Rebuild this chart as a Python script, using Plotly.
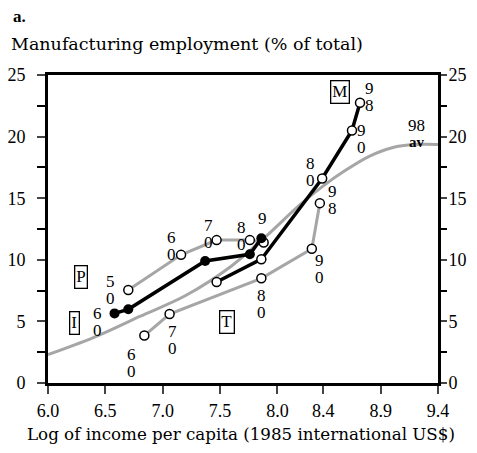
import plotly.graph_objects as go

FONT = "Liberation Serif"
TITLE_FONT = "DejaVu Serif"
GRAY = "#a6a6a6"

# log income per capita (x) vs manufacturing share of employment (y, %)
p_x = [6.70, 7.16, 7.47, 7.76, 7.88]
p_y = [7.55, 10.4, 11.6, 11.6, 11.4]
i_x = [6.58, 6.70, 7.37, 7.76, 7.86]
i_y = [5.65, 5.98, 9.9, 10.45, 11.75]
t_x = [6.84, 7.06, 7.86, 8.30, 8.37]
t_y = [3.85, 5.6, 8.5, 10.9, 14.6]
m_x = [7.47, 7.86, 8.39, 8.65, 8.72]
m_y = [8.2, 10.05, 16.6, 20.5, 22.75]

# average pattern
av_x = [6.0, 6.4, 6.8, 7.2, 7.6, 7.9, 8.2, 8.4, 8.6, 8.8, 9.0, 9.2, 9.4]
av_y = [2.3, 3.7, 5.4, 7.1, 9.5, 11.9, 14.5, 16.0, 17.3, 18.4, 19.1, 19.35, 19.35]

x_ticks = [6.0, 6.5, 7.0, 7.5, 8.0, 8.4, 8.9, 9.4]
x_labels = ["6.0", "6.5", "7.0", "7.5", "8.0", "8.4", "8.9", "9.4"]
y_ticks = [0, 5, 10, 15, 20, 25]

# (x list, y list, point index, year digits) and pixel offsets of the first digit
year_marks = [
    (p_x, p_y, 0, "50"), (p_x, p_y, 1, "60"), (p_x, p_y, 2, "70"), (p_x, p_y, 3, "80"),
    (i_x, i_y, 0, "60"), (i_x, i_y, 4, "9"),
    (t_x, t_y, 0, "60"), (t_x, t_y, 1, "70"), (t_x, t_y, 2, "80"), (t_x, t_y, 3, "90"), (t_x, t_y, 4, "98"),
    (m_x, m_y, 2, "80"), (m_x, m_y, 3, "90"), (m_x, m_y, 4, "98"),
]
year_offsets = [
    (-18, -8), (-10, -17), (-8, -15), (-8, -13),
    (-17, 0), (1, -20),
    (-13, 19), (3, 17), (0, 17), (8, 12), (13, -12),
    (-12, -15), (10, 0), (9, -14),
]

box_labels = ["P", "I", "T", "M"]
box_x = [6.29, 6.23, 7.56, 8.545]
box_y = [8.63, 4.85, 4.98, 23.64]

fig = go.Figure()

fig.add_trace(go.Scatter(x=av_x, y=av_y, mode="lines", line=dict(color=GRAY, width=3, shape="spline"),
                         hoverinfo="skip"))
open_marker = dict(symbol="circle", size=9, color="white", line=dict(color="black", width=1.5))
for xs, ys in [(p_x, p_y), (t_x, t_y)]:
    fig.add_trace(go.Scatter(x=xs, y=ys, mode="lines+markers", line=dict(color=GRAY, width=3),
                             marker=open_marker))
fig.add_trace(go.Scatter(x=m_x, y=m_y, mode="lines+markers", line=dict(color="black", width=3.5),
                         marker=open_marker))
fig.add_trace(go.Scatter(x=i_x, y=i_y, mode="lines+markers", line=dict(color="black", width=3.5),
                         marker=dict(symbol="circle", size=10, color="black")))
# right-hand axis
fig.add_trace(go.Scatter(x=[6.0], y=[0], yaxis="y2", mode="markers", marker=dict(opacity=0),
                         hoverinfo="skip"))

digit_font = dict(family=FONT, size=17, color="black")
for (xs, ys, k, digits), (dx, dy) in zip(year_marks, year_offsets):
    for j, ch in enumerate(digits):
        fig.add_annotation(x=xs[k], y=ys[k], text=ch, showarrow=False, font=digit_font,
                           xshift=dx, yshift=-(dy + 17 * j))

for lab, bx, by in zip(box_labels, box_x, box_y):
    fig.add_annotation(x=bx, y=by, text=lab, showarrow=False, font=digit_font,
                       bordercolor="black", borderwidth=1.3, borderpad=1)

fig.add_annotation(x=9.215, y=20.94, text="98", showarrow=False, font=digit_font)
fig.add_annotation(x=9.215, y=19.6, text="<b>av</b>", showarrow=False,
                   font=dict(family=FONT, size=15, color="black"))

fig.add_annotation(xref="paper", yref="paper", x=-0.094, y=1.19, xanchor="left", yanchor="middle",
                   text="<b>a.</b>", showarrow=False, font=dict(family=FONT, size=17, color="black"))
fig.add_annotation(xref="paper", yref="paper", x=-0.1, y=1.10, xanchor="left", yanchor="middle",
                   text="Manufacturing employment (% of total)", showarrow=False,
                   font=dict(family=TITLE_FONT, size=17.5, color="black"))
fig.add_annotation(xref="paper", yref="paper", x=0.496, y=-0.165, xanchor="center", yanchor="middle",
                   text="Log of income per capita (1985 international US$)", showarrow=False,
                   font=dict(family=TITLE_FONT, size=16.7, color="black"))

yax = dict(range=[0, 25], tickvals=y_ticks, ticks="outside", ticklen=8, tickwidth=2, showgrid=False,
           zeroline=False, showline=True, linewidth=3, linecolor="black", ticklabelstandoff=8,
           automargin=False, tickfont=dict(family=FONT, size=18, color="black"),
           minor=dict(tickvals=[2.5, 7.5, 12.5, 17.5, 22.5], ticks="outside", ticklen=8, tickwidth=2,
                      tickcolor="black"))

# the page body adds an 8px border, so the figure is kept inside the window
fig.update_layout(
    width=461, height=437,
    margin=dict(l=40, r=31, t=67, b=62),
    paper_bgcolor="white", plot_bgcolor="white",
    showlegend=False,
    xaxis=dict(range=[6.0, 9.4], tickvals=x_ticks, ticktext=x_labels, ticks="outside", ticklen=8,
               tickwidth=2, showgrid=False, zeroline=False, showline=True, linewidth=3, linecolor="black",
               mirror=True, ticklabelstandoff=1, automargin=False,
               tickfont=dict(family=FONT, size=18, color="black")),
    yaxis=yax,
    yaxis2=dict(yax, overlaying="y", side="right", anchor="x", ticklen=6, ticklabelstandoff=-2,
                minor=dict(tickvals=[2.5, 7.5, 12.5, 17.5, 22.5], ticks="outside", ticklen=6,
                           tickwidth=2, tickcolor="black")),
)

fig.write_html("out.html")
